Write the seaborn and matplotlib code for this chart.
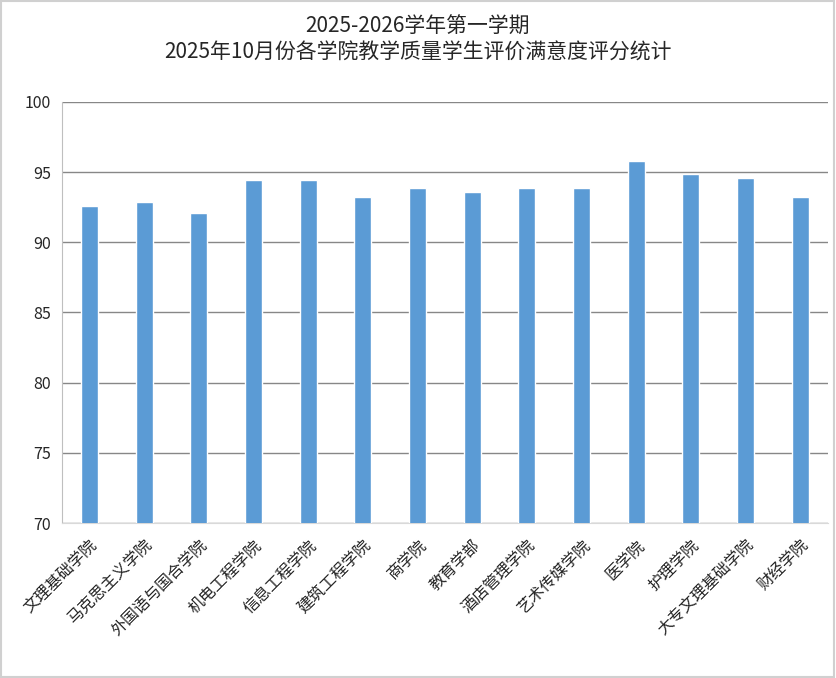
import matplotlib
matplotlib.use("Agg")
import matplotlib.pyplot as plt
import seaborn as sns
import pandas as pd
from matplotlib.patches import Rectangle

# 学院与满意度评分
colleges = ['文理基础学院', '马克思主义学院', '外国语与国合学院', '机电工程学院', '信息工程学院',
            '建筑工程学院', '商学院', '教育学部', '酒店管理学院', '艺术传媒学院',
            '医学院', '护理学院', '大专文理基础学院', '财经学院']
scores = [92.6, 92.85, 92.1, 94.45, 94.45, 93.2, 93.85, 93.6, 93.85, 93.85,
          95.8, 94.85, 94.6, 93.2]
y_ticks = [70, 75, 80, 85, 90, 95, 100]

df = pd.DataFrame({'学院': colleges, '评分': scores})

sns.set_style('white')
plt.rcParams['font.family'] = ['Noto Sans CJK SC', 'DejaVu Sans']

fig = plt.figure(figsize=(8.36, 6.78), dpi=100)
ax = fig.add_axes([0.0742, 0.2286, 0.9158, 0.621])

sns.barplot(data=df, x='学院', y='评分', color='#5b9bd5', width=0.31,
            saturation=1, ax=ax, zorder=3)

ax.set_ylim(70, 100)
ax.set_yticks(y_ticks)
ax.set_xlim(-0.5, len(colleges) - 0.5)
ax.grid(axis='y', color='#878787', linewidth=1, zorder=0)
ax.tick_params(axis='y', length=0, labelsize=11.5, pad=8)
ax.tick_params(axis='x', length=0, labelsize=11.5, pad=10)
plt.setp(ax.get_xticklabels(), rotation=45, ha='right', rotation_mode='anchor')
ax.set_xlabel('')
ax.set_ylabel('')
for side in ['top', 'right']:
    ax.spines[side].set_visible(False)
ax.spines['left'].set_color('#bfbfbf')
ax.spines['bottom'].set_color('#d9d9d9')

fig.text(0.5, 0.960, '2025-2026学年第一学期', ha='center', va='center', fontsize=15)
fig.text(0.5, 0.922, '2025年10月份各学院教学质量学生评价满意度评分统计', ha='center', va='center', fontsize=15)

fig.patches.append(Rectangle((0.001, 0.001), 0.997, 0.997, transform=fig.transFigure,
                             fill=False, edgecolor='#d0d0d0', linewidth=1.5))

fig.savefig('out.png', dpi=100)
